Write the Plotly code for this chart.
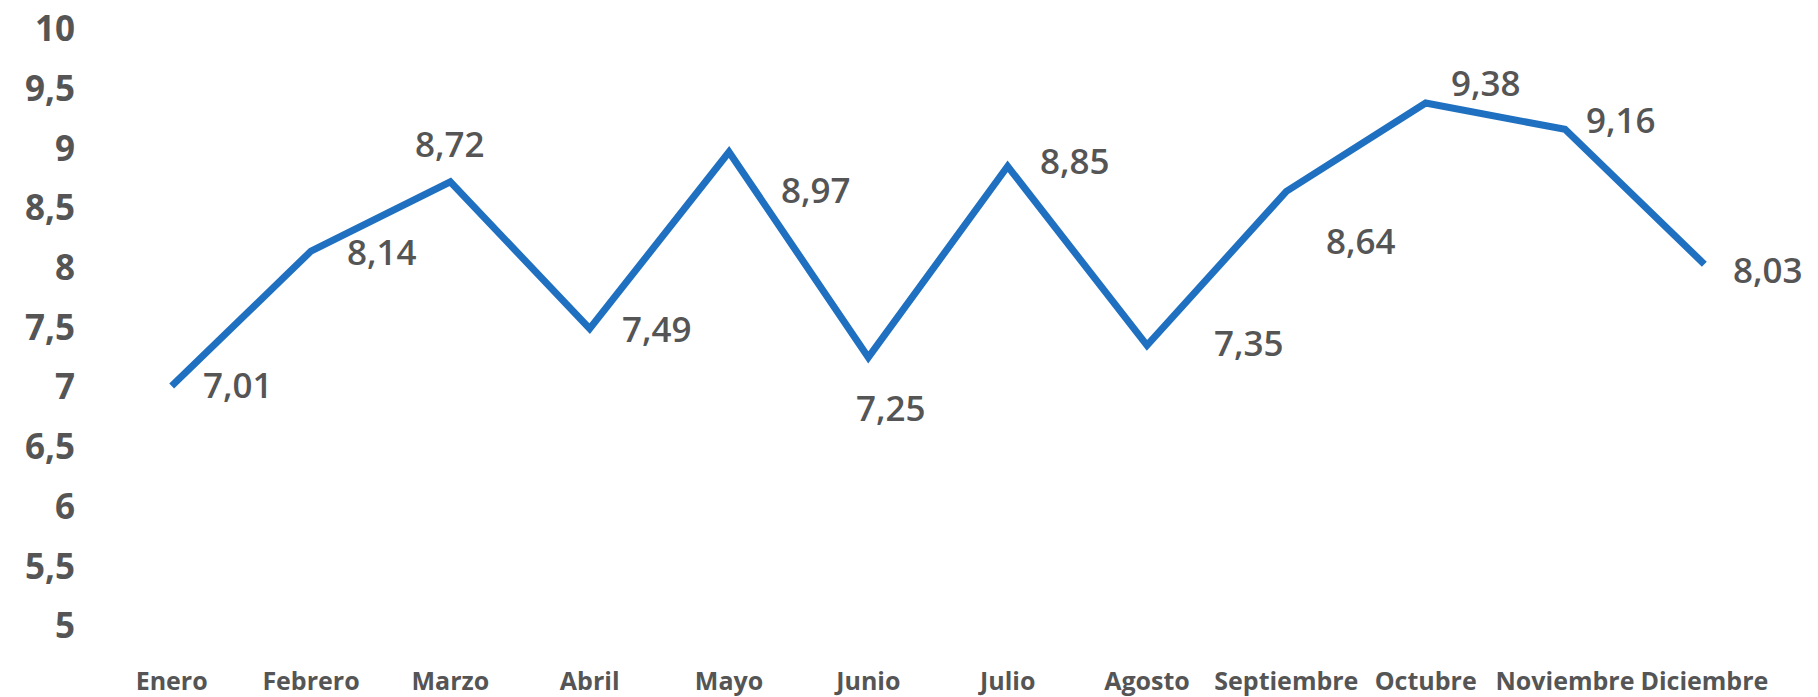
import plotly.graph_objects as go

months = ["Enero", "Febrero", "Marzo", "Abril", "Mayo", "Junio", "Julio",
          "Agosto", "Septiembre", "Octubre", "Noviembre", "Diciembre"]
values = [7.01, 8.14, 8.72, 7.49, 8.97, 7.25, 8.85, 7.35, 8.64, 9.38, 9.16, 8.03]
value_labels = ["7,01", "8,14", "8,72", "7,49", "8,97", "7,25", "8,85",
                "7,35", "8,64", "9,38", "9,16", "8,03"]
y_ticks = [5, 5.5, 6, 6.5, 7, 7.5, 8, 8.5, 9, 9.5, 10]
y_tick_text = ["5", "5,5", "6", "6,5", "7", "7,5", "8", "8,5", "9", "9,5", "10"]

# label offsets (pixels) relative to each point
label_dx = [66, 71, 0, 67, 87, 23, 67, 102, 75, 60, 56, 64]
label_dy = [2, 0, 38, 0, -38, -50, 6, 3, -49, 21, 10, -5]

LINE = "#1f70c1"
TXT = "#555555"
FONT = "Open Sans"

fig = go.Figure()
fig.add_trace(go.Scatter(
    x=months, y=values, mode="lines",
    line=dict(color=LINE, width=7),
    hoverinfo="skip", showlegend=False,
))

for m, v, t, dx, dy in zip(months, values, value_labels, label_dx, label_dy):
    fig.add_annotation(x=m, y=v, text=t, showarrow=False,
                       xshift=dx, yshift=dy,
                       font=dict(family=FONT, size=35, color=TXT, weight=600))

fig.update_layout(
    width=1818, height=697,
    margin=dict(l=102, r=44, t=29, b=71),
    paper_bgcolor="white", plot_bgcolor="white",
    xaxis=dict(range=[-0.5, 11.5], automargin=False,
               showgrid=False, zeroline=False, showline=False,
               ticks="outside", ticklen=33, tickcolor="rgba(0,0,0,0)",
               ticklabeloverflow="allow",
               tickfont=dict(family=FONT, size=25, color=TXT, weight=700)),
    yaxis=dict(range=[5, 10], tickvals=y_ticks, ticktext=y_tick_text,
               automargin=False, ticklabeloverflow="allow",
               showgrid=False, zeroline=False, showline=False,
               ticks="outside", ticklen=19, tickcolor="rgba(0,0,0,0)",
               tickfont=dict(family=FONT, size=35, color=TXT, weight=700)),
)

fig.write_html("out.html", config={"displayModeBar": False},
               post_script="document.body.style.margin='0px';document.body.style.overflow='hidden';")
